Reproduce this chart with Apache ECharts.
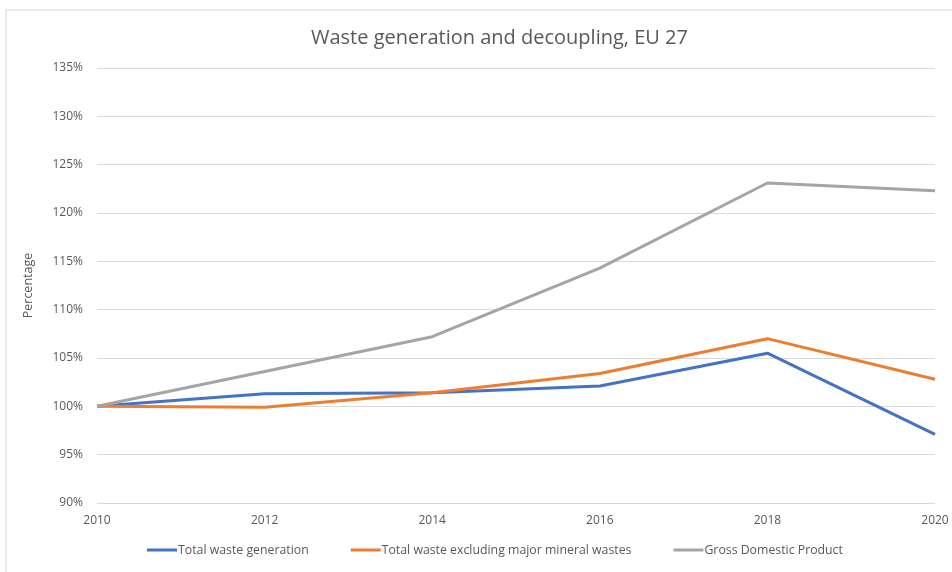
<!DOCTYPE html>
<html><head><meta charset="utf-8">
<script src="https://cdn.jsdelivr.net/npm/echarts@6/dist/echarts.min.js"></script>
<style>html,body{margin:0;padding:0;background:#fff}#c{width:952px;height:572px}</style>
</head><body><div id="c"></div>
<script>
const years = ['2010','2012','2014','2016','2018','2020'];
const totalWaste = [100, 101.3, 101.4, 102.1, 105.5, 97.1];
const wasteExMineral = [100, 99.9, 101.4, 103.4, 107.0, 102.8];
const gdp = [100, 103.6, 107.2, 114.3, 123.1, 122.3];
const seriesNames = ['Total waste generation','Total waste excluding major mineral wastes','Gross Domestic Product'];
const colors = ['#4472C4','#ED7D31','#A5A5A5'];
const FONT = 'Open Sans';
const chart = echarts.init(document.getElementById('c'));
chart.setOption({
  animation:false,
  textStyle:{fontFamily:FONT},
  graphic:[{type:'rect',shape:{x:6,y:10,width:960,height:580},style:{fill:'none',stroke:'#d9d9d9',lineWidth:1}}],
  title:{text:'Waste generation and decoupling, EU 27',left:306,top:23,
    textStyle:{fontFamily:FONT,fontSize:20,fontWeight:'normal',color:'#595959'}},
  legend:{bottom:11,left:142,itemWidth:30,itemHeight:3,itemGap:42,icon:'rect',
    textStyle:{fontFamily:FONT,fontSize:12.3,color:'#595959',padding:[0,0,0,-4]},
    data:seriesNames},
  grid:{left:97,right:17,top:68,bottom:69},
  xAxis:{type:'category',data:years,boundaryGap:false,
    axisLine:{show:false},axisTick:{show:false},
    axisLabel:{color:'#595959',fontSize:12,margin:12}},
  yAxis:{type:'value',min:90,max:135,interval:5,name:'Percentage',nameLocation:'middle',nameGap:62,
    nameTextStyle:{color:'#595959',fontSize:12.5},
    axisLine:{show:false},axisTick:{show:false},
    axisLabel:{color:'#595959',fontSize:12,margin:14,formatter:v=>v+'%'},
    splitLine:{lineStyle:{color:'#d9d9d9',width:1}}},
  series:[
    {name:seriesNames[0],type:'line',data:totalWaste,symbol:'none',lineStyle:{width:3,color:colors[0]},itemStyle:{color:colors[0]}},
    {name:seriesNames[1],type:'line',data:wasteExMineral,symbol:'none',lineStyle:{width:3,color:colors[1]},itemStyle:{color:colors[1]}},
    {name:seriesNames[2],type:'line',data:gdp,symbol:'none',lineStyle:{width:3,color:colors[2]},itemStyle:{color:colors[2]}}
  ]
});
</script></body></html>
